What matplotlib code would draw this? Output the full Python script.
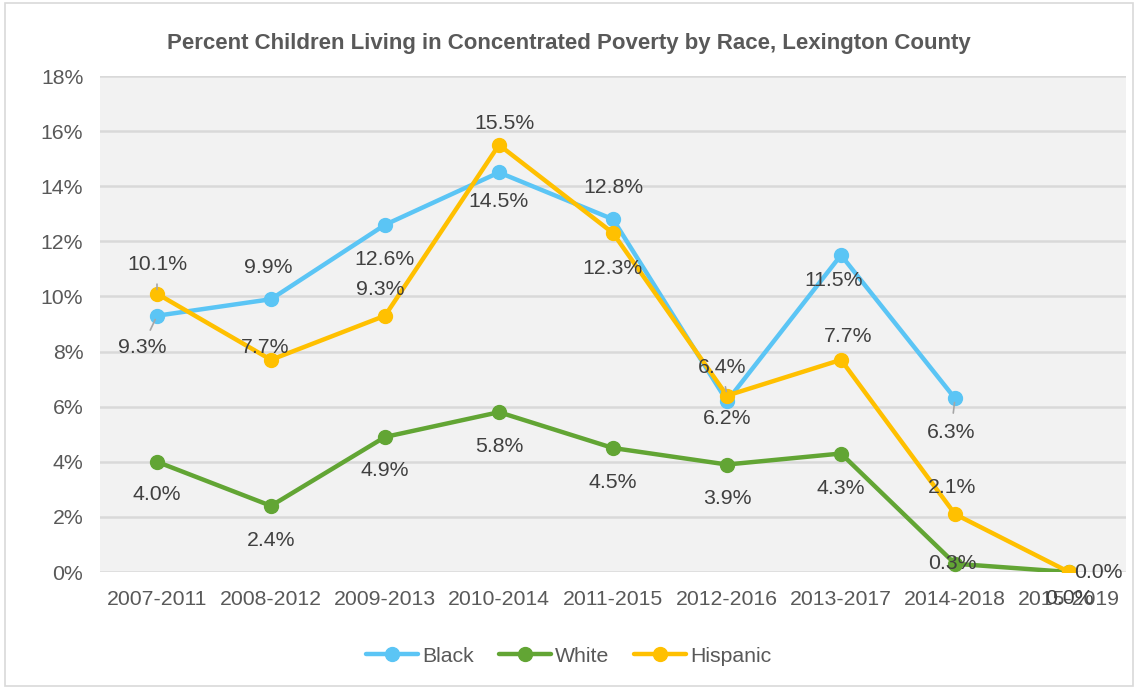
import matplotlib.pyplot as plt
from matplotlib.patches import Rectangle
from matplotlib.ticker import FuncFormatter

plt.rcParams['font.family'] = ['Liberation Sans', 'DejaVu Sans']

periods = ['2007-2011', '2008-2012', '2009-2013', '2010-2014', '2011-2015',
           '2012-2016', '2013-2017', '2014-2018', '2015-2019']
black = [9.3, 9.9, 12.6, 14.5, 12.8, 6.2, 11.5, 6.3, None]
white = [4.0, 2.4, 4.9, 5.8, 4.5, 3.9, 4.3, 0.3, 0.0]
hispanic = [10.1, 7.7, 9.3, 15.5, 12.3, 6.4, 7.7, 2.1, 0.0]

# label offsets in pixels (dx, dy), up is positive
black_off = [(-15, -32), (-3, 32), (0, -35), (0, -29), (0, 32), (0, -17), (-7, -25), (-4, -34), None]
white_off = [(0, -33), (0, -35), (0, -34), (0, -34), (0, -34), (0, -34), (0, -35), (-3, 0), (0, -26)]
hisp_off = [(0, 29), (-6, 12), (-5, 26), (6, 21), (0, -35), (-5, 28), (7, 23), (-3, 27), (29, 0)]
# labels that get a small leader line in the original
leaders = {('Black', 0), ('Black', 7), ('Hispanic', 0), ('Hispanic', 5)}

c_black = '#5BC5F5'
c_white = '#62A534'
c_hisp = '#FFC000'
txt = '#595959'
fs = 15.3

fig = plt.figure(figsize=(11.38, 6.89), dpi=100)
fig.patches.append(Rectangle((0.004, 0.004), 0.992, 0.992, transform=fig.transFigure,
                             fill=False, edgecolor='#D9D9D9', linewidth=1.2))
ax = fig.add_axes([100 / 1138, 117 / 689, 1026 / 1138, 496 / 689])
ax.set_facecolor('#F2F2F2')

x = list(range(len(periods)))
series = [('Black', black, c_black, black_off),
          ('White', white, c_white, white_off),
          ('Hispanic', hispanic, c_hisp, hisp_off)]
for name, vals, col, offs in series:
    xs = [i for i, v in zip(x, vals) if v is not None]
    ys = [v for v in vals if v is not None]
    ax.plot(xs, ys, color=col, lw=3.2, marker='o', ms=10, label=name,
            solid_capstyle='round', zorder=3)
    for i, v in zip(xs, ys):
        dx, dy = offs[i]
        ax.annotate(f'{v:.1f}%', (i, v), xytext=(dx, dy), textcoords='offset pixels',
                    ha='center', va='center', fontsize=fs, color='#404040', zorder=5)
        if (name, i) in leaders:
            ax.annotate('', (i, v), xytext=(dx, dy), textcoords='offset pixels',
                        arrowprops=dict(arrowstyle='-', color='#A6A6A6', lw=1.2,
                                        shrinkA=14, shrinkB=3), zorder=4)

ax.set_xlim(-0.5, len(periods) - 0.5)
ax.set_ylim(0, 18)
ax.set_yticks(range(0, 19, 2))
ax.yaxis.set_major_formatter(FuncFormatter(lambda v, p: f'{v:.0f}%'))
ax.set_xticks(x)
ax.set_xticklabels(periods)
ax.grid(axis='y', color='#D9D9D9', lw=1.8)
ax.set_axisbelow(True)
for s in ax.spines.values():
    s.set_visible(False)
ax.tick_params(length=0, labelsize=fs, labelcolor=txt)
ax.tick_params(axis='y', pad=12)
ax.tick_params(axis='x', pad=13)

fig.text(0.5, 1 - 43 / 689, 'Percent Children Living in Concentrated Poverty by Race, Lexington County',
         ha='center', va='center', fontsize=16.0, fontweight='bold', color=txt)

fig.legend(loc='center', bbox_to_anchor=(0.5, 1 - 656 / 689), ncol=3, frameon=False,
           fontsize=fs, labelcolor=txt, handlelength=2.45, columnspacing=1.15, handletextpad=0.2)

fig.savefig('out.png', dpi=100)
